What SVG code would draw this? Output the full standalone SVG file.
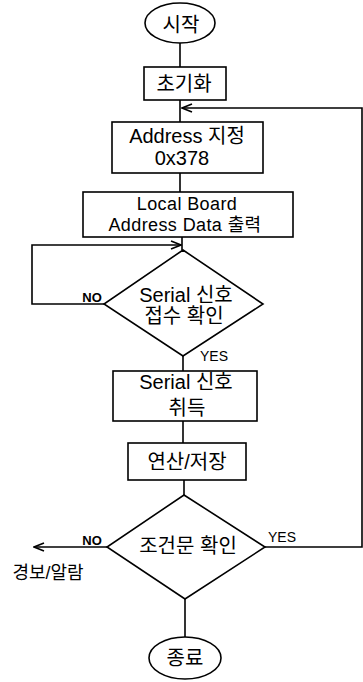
<svg xmlns="http://www.w3.org/2000/svg" width="363" height="682" viewBox="0 0 363 682">
<style>
.s{fill:#fff;stroke:#000;stroke-width:1.6}
.c{fill:none;stroke:#000;stroke-width:1.6}
text{font-family:"Liberation Sans","Noto Sans CJK KR",sans-serif;font-size:20px;fill:#000;text-anchor:middle}
.l{font-size:14px}
.n{font-size:13px;font-weight:bold}
.m{font-size:18px;letter-spacing:0.4px}
</style>
<defs>
<marker id="a" markerWidth="12" markerHeight="10" refX="11" refY="5" orient="auto" markerUnits="userSpaceOnUse">
<path d="M1,1 L11,5 L1,9" fill="none" stroke="#000" stroke-width="1.6"/>
</marker>
</defs>
<rect width="363" height="682" fill="#fff"/>
<g id="connectors">
<line class="c" x1="180" y1="43" x2="180" y2="67"/>
<line class="c" x1="180" y1="100" x2="180" y2="122"/>
<polyline class="c" points="265,547 362,547 362,108 182,108" marker-end="url(#a)"/>
<line class="c" x1="180" y1="173" x2="180" y2="192"/>
<line class="c" x1="182" y1="237" x2="182" y2="250"/>
<polyline class="c" points="104,304 32,304 32,245 181,245" marker-end="url(#a)"/>
<line class="c" x1="183" y1="356" x2="183" y2="371"/>
<line class="c" x1="183" y1="421" x2="183" y2="443"/>
<line class="c" x1="184" y1="480" x2="184" y2="495"/>
<line class="c" x1="107" y1="547" x2="34" y2="547" marker-end="url(#a)"/>
<line class="c" x1="185" y1="599" x2="185" y2="637"/>
<text class="n" x="92" y="302">NO</text>
<text class="l" x="214" y="361">YES</text>
<text class="n" x="92" y="545">NO</text>
<text class="l" x="282" y="542">YES</text>
</g>
<g id="start">
<ellipse class="s" cx="180" cy="23" rx="35" ry="20"/>
<text x="181" y="32">시작</text>
</g>
<g id="init">
<rect class="s" x="144" y="67" width="82" height="33"/>
<text x="184" y="91">초기화</text>
</g>
<g id="address">
<rect class="s" x="112" y="122" width="151" height="51"/>
<text x="187" y="143">Address 지정</text>
<text x="182" y="165">0x378</text>
</g>
<g id="local">
<rect class="s" x="83" y="192" width="210" height="45"/>
<text class="m" x="187" y="210">Local Board</text>
<text class="m" x="185" y="231">Address Data 출력</text>
</g>
<g id="check-serial">
<polygon class="s" points="183,250 263,304 183,356 104,304"/>
<text x="186" y="302">Serial 신호</text>
<text x="184" y="323">접수 확인</text>
</g>
<g id="get-serial">
<rect class="s" x="113" y="371" width="144" height="50"/>
<text x="186" y="389">Serial 신호</text>
<text x="187" y="415">취득</text>
</g>
<g id="calc">
<rect class="s" x="128" y="443" width="118" height="37"/>
<text x="187" y="469">연산/저장</text>
</g>
<g id="cond">
<polygon class="s" points="184,495 265,547 185,599 107,547"/>
<text x="188" y="553">조건문 확인</text>
</g>
<g id="alarm">
<text x="48" y="579" style="font-size:18px">경보/알람</text>
</g>
<g id="end">
<ellipse class="s" cx="185" cy="658" rx="36" ry="21"/>
<text x="185" y="665">종료</text>
</g>
</svg>
